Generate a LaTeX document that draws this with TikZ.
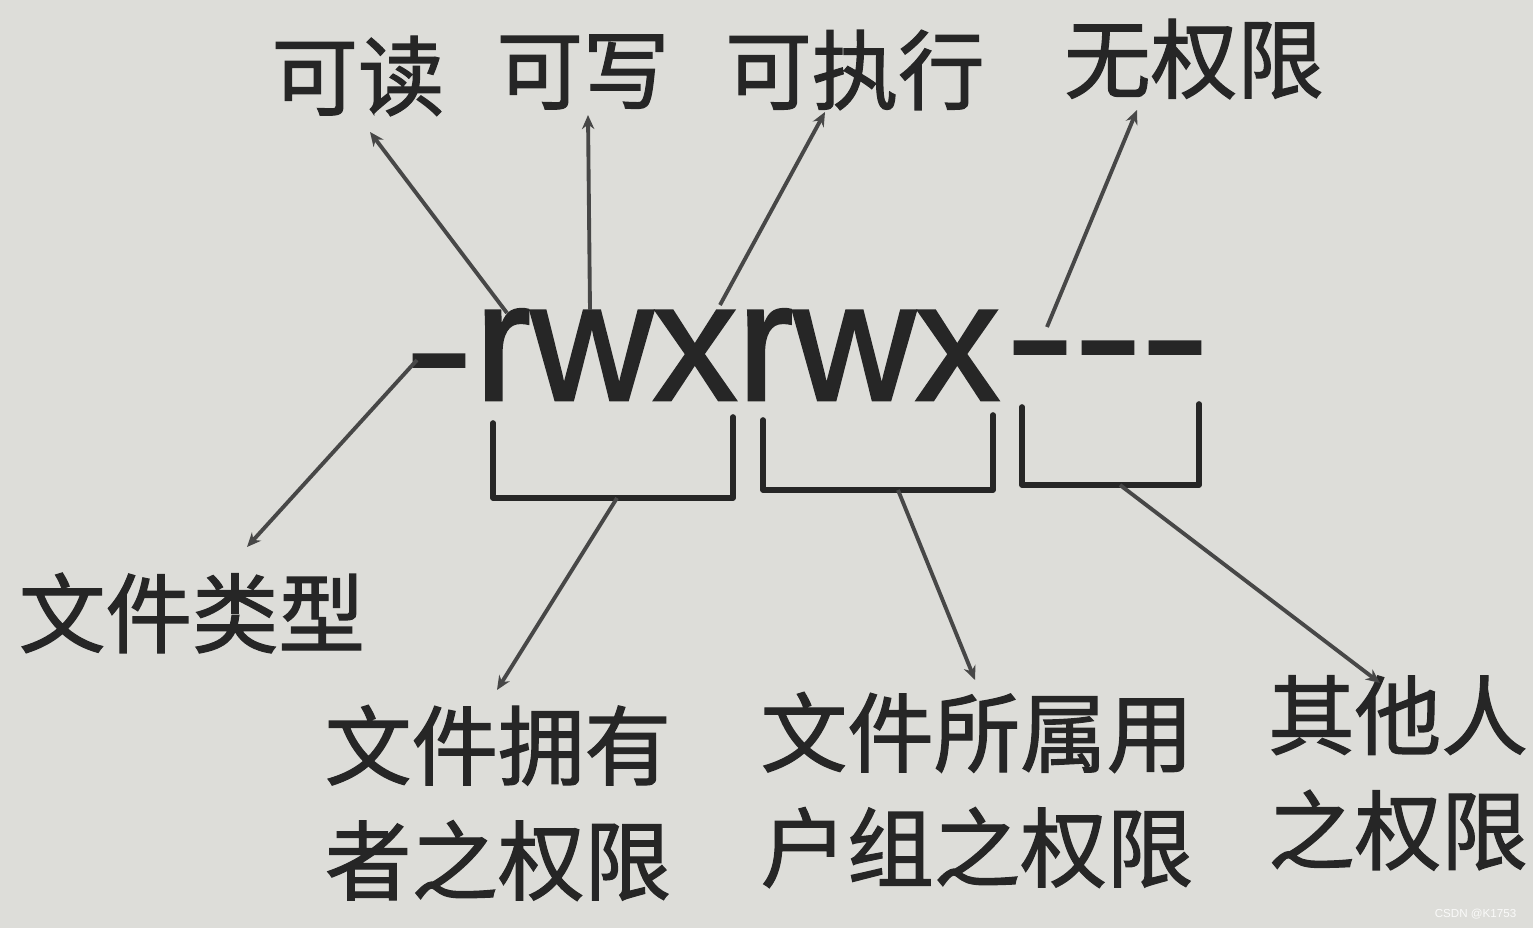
\documentclass[tikz,border=0pt]{standalone}
\usepackage{fontspec}
\setmainfont{Liberation Sans}
\newfontfamily\bigfont{Liberation Sans}[FakeBold=1.6]
\newfontfamily\cjk{Noto Sans CJK SC}[FakeBold=1.4]
\usetikzlibrary{arrows.meta}
\definecolor{paper}{RGB}{221,221,217}
\definecolor{ink}{RGB}{38,38,38}
\begin{document}
\begin{tikzpicture}[x=0.01cm,y=-0.01cm,
  lbl/.style={font=\cjk\fontsize{24.6}{32.7}\selectfont, text=ink, inner sep=0pt, align=left},
  big/.style={font=\bigfont\fontsize{48}{48}\selectfont, text=ink, inner sep=0pt},
  bracket/.style={draw=ink, line width=1.6pt, line join=round, line cap=round},
  conn/.style={draw=ink!85, line width=1.1pt, -{Stealth[length=4pt,width=3.5pt]}}]
\fill[paper] (0,0) rectangle (1533,928);
\useasboundingbox (0,0) rectangle (1533,928);
% top labels
\node[lbl] (kedu) at (358,76) {可读};
\node[lbl] (kexie) at (583,72) {可写};
\node[lbl] (kezx) at (855,70) {可执行};
\node[lbl] (wuqx) at (1194,59) {无权限};
% main permission string
\node[big, anchor=base] (d0) at (439,401) {\scalebox{1.2}[0.9]{-}};
\node[big, anchor=base west] (rwx) at (474,400) {rwxrwx};
\node[big, anchor=base] (d1) at (1040,388) {\scalebox{1.2}[0.9]{-}};
\node[big, anchor=base] (d2) at (1108,388) {\scalebox{1.2}[0.9]{-}};
\node[big, anchor=base] (d3) at (1175,388) {\scalebox{1.2}[0.9]{-}};
% bottom labels
\node[lbl] (type) at (192,613) {文件类型};
\node[lbl] (owner) at (498,803) {文件拥有\\者之权限};
\node[lbl] (group) at (977,790) {文件所属用\\户组之权限};
\node[lbl] (other) at (1398,773) {其他人\\之权限};
% brackets
\draw[bracket] (493,423) -- (493,498) -- (733,498) -- (733,417);
\draw[bracket] (763,420) -- (763,490) -- (993,490) -- (993,415);
\draw[bracket] (1022,407) -- (1022,485) -- (1199,485) -- (1199,404);
% connector end points
\coordinate (s1) at (507,313); \coordinate (t1) at (370,132);
\coordinate (s2) at (590,310); \coordinate (t2) at (588,115);
\coordinate (s3) at (720,305); \coordinate (t3) at (825,112);
\coordinate (s4) at (1047,327); \coordinate (t4) at (1137,110);
\coordinate (s5) at (417,360); \coordinate (t5) at (247,547);
\coordinate (b1) at (617,498); \coordinate (t6) at (497,690);
\coordinate (b2) at (898,490); \coordinate (t7) at (975,680);
\coordinate (b3) at (1120,485); \coordinate (t8) at (1380,683);
\draw[conn] (s1) -- (t1);
\draw[conn] (s2) -- (t2);
\draw[conn] (s3) -- (t3);
\draw[conn] (s4) -- (t4);
\draw[conn] (s5) -- (t5);
\draw[conn] (b1) -- (t6);
\draw[conn] (b2) -- (t7);
\draw[conn] (b3) -- (t8);
% watermark
\node[font=\fontsize{3.3}{4}\selectfont, text=white!85!paper, anchor=east, inner sep=0pt] (wm) at (1517,914) {CSDN @K1753};
\end{tikzpicture}
\end{document}
